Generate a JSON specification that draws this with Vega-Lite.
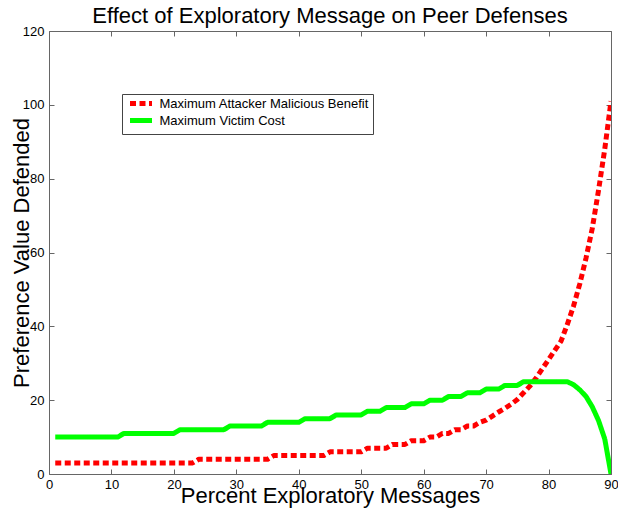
{
  "$schema": "https://vega.github.io/schema/vega-lite/v6.json",
  "width": 562,
  "height": 443,
  "autosize": "none",
  "padding": {"left": 49, "top": 31, "right": 7, "bottom": 36},
  "background": "white",
  "title": {"text": "Effect of Exploratory Message on Peer Defenses", "font": "Liberation Sans", "fontSize": 22, "fontWeight": "normal", "color": "black", "anchor": "middle", "baseline": "alphabetic", "offset": 6, "dy": 26},
  "config": {
    "font": "Liberation Sans",
    "view": {"stroke": "#666666", "strokeWidth": 1},
    "legend": {"orient": "none", "legendX": 73, "legendY": 63, "title": null, "strokeColor": "#444444", "fillColor": "white", "padding": 3, "rowPadding": -9, "labelFont": "Liberation Sans", "labelFontSize": 13, "labelColor": "black", "labelLimit": 400, "labelOffset": 12, "symbolOffset": 9.5, "symbolType": "M-2.75,0H2.75", "symbolStrokeWidth": 5, "symbolSize": 64, "cornerRadius": 0}
  },
  "data": {"values": [
    {"pct":1,"series":"Maximum Attacker Malicious Benefit","value":3},
    {"pct":2,"series":"Maximum Attacker Malicious Benefit","value":3},
    {"pct":3,"series":"Maximum Attacker Malicious Benefit","value":3},
    {"pct":4,"series":"Maximum Attacker Malicious Benefit","value":3},
    {"pct":5,"series":"Maximum Attacker Malicious Benefit","value":3},
    {"pct":6,"series":"Maximum Attacker Malicious Benefit","value":3},
    {"pct":7,"series":"Maximum Attacker Malicious Benefit","value":3},
    {"pct":8,"series":"Maximum Attacker Malicious Benefit","value":3},
    {"pct":9,"series":"Maximum Attacker Malicious Benefit","value":3},
    {"pct":10,"series":"Maximum Attacker Malicious Benefit","value":3},
    {"pct":11,"series":"Maximum Attacker Malicious Benefit","value":3},
    {"pct":12,"series":"Maximum Attacker Malicious Benefit","value":3},
    {"pct":13,"series":"Maximum Attacker Malicious Benefit","value":3},
    {"pct":14,"series":"Maximum Attacker Malicious Benefit","value":3},
    {"pct":15,"series":"Maximum Attacker Malicious Benefit","value":3},
    {"pct":16,"series":"Maximum Attacker Malicious Benefit","value":3},
    {"pct":17,"series":"Maximum Attacker Malicious Benefit","value":3},
    {"pct":18,"series":"Maximum Attacker Malicious Benefit","value":3},
    {"pct":19,"series":"Maximum Attacker Malicious Benefit","value":3},
    {"pct":20,"series":"Maximum Attacker Malicious Benefit","value":3},
    {"pct":21,"series":"Maximum Attacker Malicious Benefit","value":3},
    {"pct":22,"series":"Maximum Attacker Malicious Benefit","value":3},
    {"pct":23,"series":"Maximum Attacker Malicious Benefit","value":3},
    {"pct":24,"series":"Maximum Attacker Malicious Benefit","value":4},
    {"pct":25,"series":"Maximum Attacker Malicious Benefit","value":4},
    {"pct":26,"series":"Maximum Attacker Malicious Benefit","value":4},
    {"pct":27,"series":"Maximum Attacker Malicious Benefit","value":4},
    {"pct":28,"series":"Maximum Attacker Malicious Benefit","value":4},
    {"pct":29,"series":"Maximum Attacker Malicious Benefit","value":4},
    {"pct":30,"series":"Maximum Attacker Malicious Benefit","value":4},
    {"pct":31,"series":"Maximum Attacker Malicious Benefit","value":4},
    {"pct":32,"series":"Maximum Attacker Malicious Benefit","value":4},
    {"pct":33,"series":"Maximum Attacker Malicious Benefit","value":4},
    {"pct":34,"series":"Maximum Attacker Malicious Benefit","value":4},
    {"pct":35,"series":"Maximum Attacker Malicious Benefit","value":4},
    {"pct":36,"series":"Maximum Attacker Malicious Benefit","value":5},
    {"pct":37,"series":"Maximum Attacker Malicious Benefit","value":5},
    {"pct":38,"series":"Maximum Attacker Malicious Benefit","value":5},
    {"pct":39,"series":"Maximum Attacker Malicious Benefit","value":5},
    {"pct":40,"series":"Maximum Attacker Malicious Benefit","value":5},
    {"pct":41,"series":"Maximum Attacker Malicious Benefit","value":5},
    {"pct":42,"series":"Maximum Attacker Malicious Benefit","value":5},
    {"pct":43,"series":"Maximum Attacker Malicious Benefit","value":5},
    {"pct":44,"series":"Maximum Attacker Malicious Benefit","value":5},
    {"pct":45,"series":"Maximum Attacker Malicious Benefit","value":6},
    {"pct":46,"series":"Maximum Attacker Malicious Benefit","value":6},
    {"pct":47,"series":"Maximum Attacker Malicious Benefit","value":6},
    {"pct":48,"series":"Maximum Attacker Malicious Benefit","value":6},
    {"pct":49,"series":"Maximum Attacker Malicious Benefit","value":6},
    {"pct":50,"series":"Maximum Attacker Malicious Benefit","value":6},
    {"pct":51,"series":"Maximum Attacker Malicious Benefit","value":7},
    {"pct":52,"series":"Maximum Attacker Malicious Benefit","value":7},
    {"pct":53,"series":"Maximum Attacker Malicious Benefit","value":7},
    {"pct":54,"series":"Maximum Attacker Malicious Benefit","value":7},
    {"pct":55,"series":"Maximum Attacker Malicious Benefit","value":8},
    {"pct":56,"series":"Maximum Attacker Malicious Benefit","value":8},
    {"pct":57,"series":"Maximum Attacker Malicious Benefit","value":8},
    {"pct":58,"series":"Maximum Attacker Malicious Benefit","value":9},
    {"pct":59,"series":"Maximum Attacker Malicious Benefit","value":9},
    {"pct":60,"series":"Maximum Attacker Malicious Benefit","value":9},
    {"pct":61,"series":"Maximum Attacker Malicious Benefit","value":10},
    {"pct":62,"series":"Maximum Attacker Malicious Benefit","value":10},
    {"pct":63,"series":"Maximum Attacker Malicious Benefit","value":11},
    {"pct":64,"series":"Maximum Attacker Malicious Benefit","value":11},
    {"pct":65,"series":"Maximum Attacker Malicious Benefit","value":12},
    {"pct":66,"series":"Maximum Attacker Malicious Benefit","value":12},
    {"pct":67,"series":"Maximum Attacker Malicious Benefit","value":13},
    {"pct":68,"series":"Maximum Attacker Malicious Benefit","value":13},
    {"pct":69,"series":"Maximum Attacker Malicious Benefit","value":14},
    {"pct":70,"series":"Maximum Attacker Malicious Benefit","value":14.6},
    {"pct":71,"series":"Maximum Attacker Malicious Benefit","value":15.7},
    {"pct":72,"series":"Maximum Attacker Malicious Benefit","value":16.8},
    {"pct":73,"series":"Maximum Attacker Malicious Benefit","value":17.8},
    {"pct":74,"series":"Maximum Attacker Malicious Benefit","value":18.9},
    {"pct":75,"series":"Maximum Attacker Malicious Benefit","value":20.2},
    {"pct":76,"series":"Maximum Attacker Malicious Benefit","value":22},
    {"pct":77,"series":"Maximum Attacker Malicious Benefit","value":23.8},
    {"pct":78,"series":"Maximum Attacker Malicious Benefit","value":26},
    {"pct":79,"series":"Maximum Attacker Malicious Benefit","value":28.5},
    {"pct":80,"series":"Maximum Attacker Malicious Benefit","value":31},
    {"pct":81,"series":"Maximum Attacker Malicious Benefit","value":33.5},
    {"pct":82,"series":"Maximum Attacker Malicious Benefit","value":36},
    {"pct":83,"series":"Maximum Attacker Malicious Benefit","value":40.5},
    {"pct":84,"series":"Maximum Attacker Malicious Benefit","value":45.5},
    {"pct":85,"series":"Maximum Attacker Malicious Benefit","value":51.5},
    {"pct":86,"series":"Maximum Attacker Malicious Benefit","value":58.5},
    {"pct":87,"series":"Maximum Attacker Malicious Benefit","value":66.5},
    {"pct":88,"series":"Maximum Attacker Malicious Benefit","value":76.8},
    {"pct":89,"series":"Maximum Attacker Malicious Benefit","value":88},
    {"pct":90,"series":"Maximum Attacker Malicious Benefit","value":101},
    {"pct":1,"series":"Maximum Victim Cost","value":10},
    {"pct":2,"series":"Maximum Victim Cost","value":10},
    {"pct":3,"series":"Maximum Victim Cost","value":10},
    {"pct":4,"series":"Maximum Victim Cost","value":10},
    {"pct":5,"series":"Maximum Victim Cost","value":10},
    {"pct":6,"series":"Maximum Victim Cost","value":10},
    {"pct":7,"series":"Maximum Victim Cost","value":10},
    {"pct":8,"series":"Maximum Victim Cost","value":10},
    {"pct":9,"series":"Maximum Victim Cost","value":10},
    {"pct":10,"series":"Maximum Victim Cost","value":10},
    {"pct":11,"series":"Maximum Victim Cost","value":10},
    {"pct":12,"series":"Maximum Victim Cost","value":11},
    {"pct":13,"series":"Maximum Victim Cost","value":11},
    {"pct":14,"series":"Maximum Victim Cost","value":11},
    {"pct":15,"series":"Maximum Victim Cost","value":11},
    {"pct":16,"series":"Maximum Victim Cost","value":11},
    {"pct":17,"series":"Maximum Victim Cost","value":11},
    {"pct":18,"series":"Maximum Victim Cost","value":11},
    {"pct":19,"series":"Maximum Victim Cost","value":11},
    {"pct":20,"series":"Maximum Victim Cost","value":11},
    {"pct":21,"series":"Maximum Victim Cost","value":12},
    {"pct":22,"series":"Maximum Victim Cost","value":12},
    {"pct":23,"series":"Maximum Victim Cost","value":12},
    {"pct":24,"series":"Maximum Victim Cost","value":12},
    {"pct":25,"series":"Maximum Victim Cost","value":12},
    {"pct":26,"series":"Maximum Victim Cost","value":12},
    {"pct":27,"series":"Maximum Victim Cost","value":12},
    {"pct":28,"series":"Maximum Victim Cost","value":12},
    {"pct":29,"series":"Maximum Victim Cost","value":13},
    {"pct":30,"series":"Maximum Victim Cost","value":13},
    {"pct":31,"series":"Maximum Victim Cost","value":13},
    {"pct":32,"series":"Maximum Victim Cost","value":13},
    {"pct":33,"series":"Maximum Victim Cost","value":13},
    {"pct":34,"series":"Maximum Victim Cost","value":13},
    {"pct":35,"series":"Maximum Victim Cost","value":14},
    {"pct":36,"series":"Maximum Victim Cost","value":14},
    {"pct":37,"series":"Maximum Victim Cost","value":14},
    {"pct":38,"series":"Maximum Victim Cost","value":14},
    {"pct":39,"series":"Maximum Victim Cost","value":14},
    {"pct":40,"series":"Maximum Victim Cost","value":14},
    {"pct":41,"series":"Maximum Victim Cost","value":15},
    {"pct":42,"series":"Maximum Victim Cost","value":15},
    {"pct":43,"series":"Maximum Victim Cost","value":15},
    {"pct":44,"series":"Maximum Victim Cost","value":15},
    {"pct":45,"series":"Maximum Victim Cost","value":15},
    {"pct":46,"series":"Maximum Victim Cost","value":16},
    {"pct":47,"series":"Maximum Victim Cost","value":16},
    {"pct":48,"series":"Maximum Victim Cost","value":16},
    {"pct":49,"series":"Maximum Victim Cost","value":16},
    {"pct":50,"series":"Maximum Victim Cost","value":16},
    {"pct":51,"series":"Maximum Victim Cost","value":17},
    {"pct":52,"series":"Maximum Victim Cost","value":17},
    {"pct":53,"series":"Maximum Victim Cost","value":17},
    {"pct":54,"series":"Maximum Victim Cost","value":18},
    {"pct":55,"series":"Maximum Victim Cost","value":18},
    {"pct":56,"series":"Maximum Victim Cost","value":18},
    {"pct":57,"series":"Maximum Victim Cost","value":18},
    {"pct":58,"series":"Maximum Victim Cost","value":19},
    {"pct":59,"series":"Maximum Victim Cost","value":19},
    {"pct":60,"series":"Maximum Victim Cost","value":19},
    {"pct":61,"series":"Maximum Victim Cost","value":20},
    {"pct":62,"series":"Maximum Victim Cost","value":20},
    {"pct":63,"series":"Maximum Victim Cost","value":20},
    {"pct":64,"series":"Maximum Victim Cost","value":21},
    {"pct":65,"series":"Maximum Victim Cost","value":21},
    {"pct":66,"series":"Maximum Victim Cost","value":21},
    {"pct":67,"series":"Maximum Victim Cost","value":22},
    {"pct":68,"series":"Maximum Victim Cost","value":22},
    {"pct":69,"series":"Maximum Victim Cost","value":22},
    {"pct":70,"series":"Maximum Victim Cost","value":23},
    {"pct":71,"series":"Maximum Victim Cost","value":23},
    {"pct":72,"series":"Maximum Victim Cost","value":23},
    {"pct":73,"series":"Maximum Victim Cost","value":24},
    {"pct":74,"series":"Maximum Victim Cost","value":24},
    {"pct":75,"series":"Maximum Victim Cost","value":24},
    {"pct":76,"series":"Maximum Victim Cost","value":25},
    {"pct":77,"series":"Maximum Victim Cost","value":25},
    {"pct":78,"series":"Maximum Victim Cost","value":25},
    {"pct":79,"series":"Maximum Victim Cost","value":25},
    {"pct":80,"series":"Maximum Victim Cost","value":25},
    {"pct":81,"series":"Maximum Victim Cost","value":25},
    {"pct":82,"series":"Maximum Victim Cost","value":25},
    {"pct":83,"series":"Maximum Victim Cost","value":25},
    {"pct":84,"series":"Maximum Victim Cost","value":24.2},
    {"pct":85,"series":"Maximum Victim Cost","value":22.8},
    {"pct":86,"series":"Maximum Victim Cost","value":21},
    {"pct":87,"series":"Maximum Victim Cost","value":18.2},
    {"pct":88,"series":"Maximum Victim Cost","value":14.5},
    {"pct":89,"series":"Maximum Victim Cost","value":9.5},
    {"pct":90,"series":"Maximum Victim Cost","value":0}
  ]},
  "layer": [
    {
      "mark": {"type": "line", "strokeWidth": 5, "strokeCap": "butt", "strokeJoin": "round", "clip": true},
      "encoding": {
        "x": {"field": "pct", "type": "quantitative", "scale": {"domain": [0, 90], "nice": false, "zero": false},
          "axis": {"orient": "bottom", "values": [0,10,20,30,40,50,60,70,80,90], "tickSize": -5, "tickColor": "#666666", "labelPadding": 9, "domain": false, "grid": false, "labelFont": "Liberation Sans", "labelFontSize": 13, "labelColor": "black", "labelFlush": false, "labelOverlap": false, "title": "Percent Exploratory Messages", "titleFont": "Liberation Sans", "titleFontSize": 22, "titleFontWeight": "normal", "titleColor": "black", "titleY": 28, "titleBaseline": "alphabetic"}},
        "y": {"field": "value", "type": "quantitative", "scale": {"domain": [0, 120], "nice": false},
          "axis": {"orient": "left", "values": [0,20,40,60,80,100,120], "tickSize": -5, "tickColor": "#666666", "labelPadding": 10, "domain": false, "grid": false, "labelFont": "Liberation Sans", "labelFontSize": 13, "labelColor": "black", "labelFlush": false, "labelOverlap": false, "title": "Preference Value Defended", "titleFont": "Liberation Sans", "titleFontSize": 22, "titleFontWeight": "normal", "titleColor": "black", "titleX": -21, "titleBaseline": "alphabetic"}},
        "color": {"field": "series", "type": "nominal", "scale": {"domain": ["Maximum Attacker Malicious Benefit", "Maximum Victim Cost"], "range": ["#ff0000", "#00ff00"]}},
        "strokeDash": {"field": "series", "type": "nominal", "scale": {"domain": ["Maximum Attacker Malicious Benefit", "Maximum Victim Cost"], "range": [[6, 3.5], [1, 0]]}}
      }
    },
    {
      "mark": {"type": "point", "opacity": 0},
      "encoding": {
        "x": {"field": "pct", "type": "quantitative", "axis": {"orient": "top", "values": [0,10,20,30,40,50,60,70,80,90], "tickSize": -5, "tickColor": "#666666", "labels": false, "domain": false, "grid": false, "title": null}},
        "y": {"field": "value", "type": "quantitative", "axis": {"orient": "right", "values": [0,20,40,60,80,100,120], "tickSize": -5, "tickColor": "#666666", "labels": false, "domain": false, "grid": false, "title": null}}
      }
    }
  ],
  "resolve": {"axis": {"x": "independent", "y": "independent"}}
}
